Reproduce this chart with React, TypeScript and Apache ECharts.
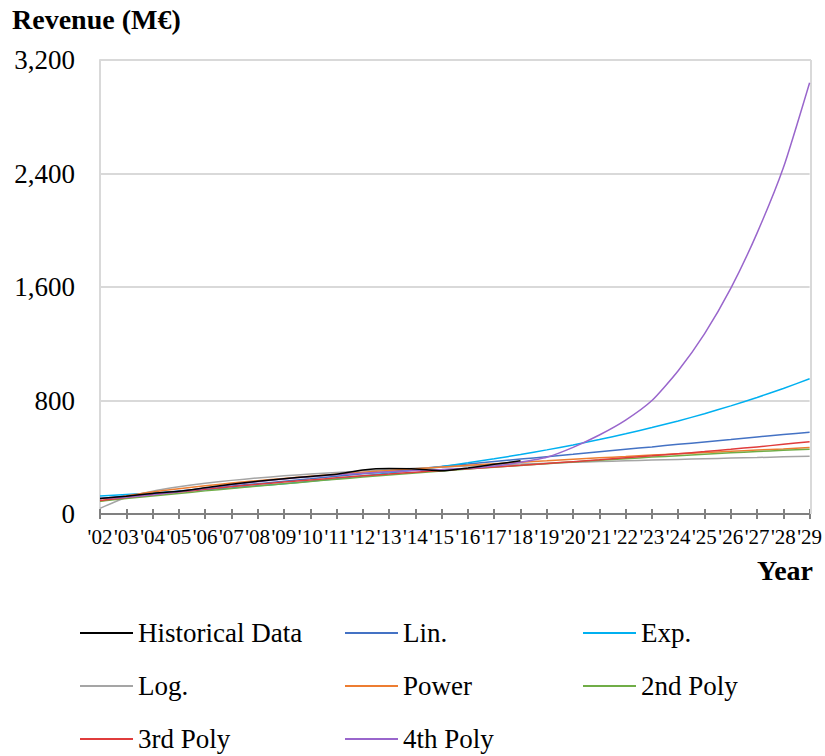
import React, { useEffect, useRef } from "react";
import * as echarts from "echarts";

const years = ["'02","'03","'04","'05","'06","'07","'08","'09","'10","'11","'12","'13","'14","'15","'16","'17","'18","'19","'20","'21","'22","'23","'24","'25","'26","'27","'28","'29"];

const historical = [110,125,145,160,185,210,230,248,265,280,310,320,318,305,325,350,375];
const linFit = [110,127,145,162,179,197,214,231,248,266,283,300,318,335,352,370,387,404,421,439,456,473,491,508,525,543,560,577];
const expFit = [127,137,147,159,171,184,199,214,231,249,268,289,311,335,361,389,419,452,487,525,565,609,656,707,762,821,885,953];
const logFit = [40,116,161,192,217,237,254,269,282,293,304,313,322,330,338,345,352,358,364,370,375,380,385,390,394,398,403,407];
const powerFit = [90,127,155,178,199,218,235,251,266,280,294,307,319,331,343,354,365,375,386,396,405,415,424,433,442,451,459,468];
const poly2Fit = [90,109,127,145,163,180,197,213,229,245,260,275,289,303,317,330,342,355,367,379,390,401,411,421,431,440,449,457];
const poly3Fit = [95,116,136,155,174,192,209,225,240,255,269,282,295,307,319,331,343,356,369,382,396,410,425,440,456,473,491,510];
const poly4Fit = [110,118,135,157,182,206,228,247,263,276,288,298,306,313,322,338,365,400,470,557,662,800,1010,1270,1590,1980,2440,3040];

const yTicks = [0, 800, 1600, 2400, 3200];

const FONT = "'Liberation Serif', 'Times New Roman', serif";

const seriesDefs = [
  { name: "Lin.", data: linFit, color: "#4472C4" },
  { name: "Exp.", data: expFit, color: "#00B0F0" },
  { name: "Log.", data: logFit, color: "#A5A5A5" },
  { name: "Power", data: powerFit, color: "#ED7D31" },
  { name: "2nd Poly", data: poly2Fit, color: "#70AD47" },
  { name: "3rd Poly", data: poly3Fit, color: "#E03C3C" },
  { name: "4th Poly", data: poly4Fit, color: "#9966CC" },
  { name: "Historical Data", data: historical, color: "#000000" },
];

export default function App() {
  const ref = useRef<HTMLDivElement>(null);
  useEffect(() => {
    if (!ref.current) return;
    const chart = echarts.init(ref.current, undefined, { renderer: "svg" });
    const legendBase = {
      orient: "vertical",
      top: 619,
      height: 200,
      padding: 0,
      itemWidth: 53,
      itemHeight: 2,
      icon: "rect",
      itemGap: 25,
      textStyle: { fontFamily: FONT, fontSize: 27, color: "#000", lineHeight: 28 },
    };
    chart.setOption({
      animation: false,
      backgroundColor: "#fff",
      title: {
        text: "Revenue (M€)",
        left: 12,
        top: 5,
        padding: 0,
        textStyle: { fontFamily: FONT, fontSize: 28, fontWeight: "bold", color: "#000" },
      },
      graphic: [
        {
          type: "text",
          right: 12,
          top: 556,
          style: { text: "Year", font: `bold 28px ${FONT}`, fill: "#000" },
        },
        {
          type: "line",
          shape: { x1: 100, y1: 60, x2: 811, y2: 60 },
          style: { stroke: "#D9D9D9", lineWidth: 2 },
          z: 1,
        },
        {
          type: "line",
          shape: { x1: 811, y1: 60, x2: 811, y2: 514 },
          style: { stroke: "#D9D9D9", lineWidth: 2 },
          z: 1,
        },
      ],
      legend: [
        { ...legendBase, left: 80, data: ["Historical Data", "Log.", "3rd Poly"] },
        { ...legendBase, left: 345, data: ["Lin.", "Power", "4th Poly"] },
        { ...legendBase, left: 583, data: ["Exp.", "2nd Poly"] },
      ],
      grid: { left: 100, right: 14, top: 60, bottom: 242, containLabel: false },
      xAxis: [
        {
          type: "category",
          data: years,
          boundaryGap: false,
          axisLine: { lineStyle: { color: "#808080", width: 2 } },
          axisTick: { show: true, length: 5, alignWithLabel: true, lineStyle: { color: "#808080", width: 2 } },
          axisLabel: { interval: 0, fontFamily: FONT, fontSize: 21, color: "#000", margin: 12 },
          splitLine: { show: false },
        },
        {
          type: "category",
          data: years,
          boundaryGap: false,
          position: "bottom",
          axisLine: { show: false },
          axisTick: { show: true, inside: true, length: 5, lineStyle: { color: "#808080", width: 2 } },
          axisLabel: { show: false },
          splitLine: { show: false },
        },
      ],
      yAxis: {
        type: "value",
        min: yTicks[0],
        max: yTicks[yTicks.length - 1],
        interval: 800,
        axisLine: { show: true, lineStyle: { color: "#D9D9D9", width: 2 } },
        axisTick: { show: false },
        axisLabel: {
          fontFamily: FONT,
          fontSize: 27,
          color: "#000",
          margin: 25,
          formatter: (v: number) => v.toLocaleString("en-US"),
        },
        splitLine: { lineStyle: { color: "#D9D9D9", width: 2 } },
      },
      series: seriesDefs.map((s) => ({
        name: s.name,
        type: "line",
        data: s.data,
        showSymbol: false,
        smooth: 0.2,
        lineStyle: { color: s.color, width: 1.5 },
        itemStyle: { color: s.color },
        z: 3,
      })),
    });
    return () => chart.dispose();
  }, []);
  return (
    <div
      ref={ref}
      style={{ position: "absolute", left: 0, top: 0, width: 825, height: 756 }}
    />
  );
}
